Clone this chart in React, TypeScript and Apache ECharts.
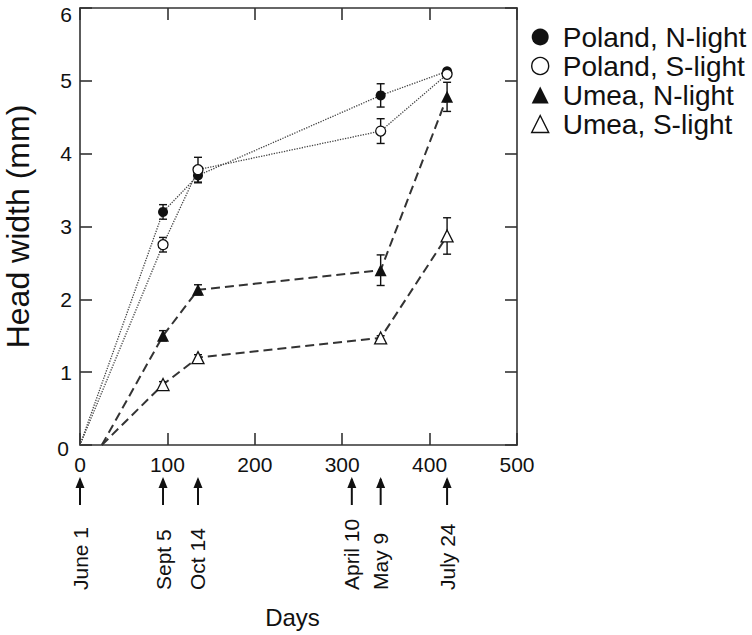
import React, { useEffect, useRef } from "react";
import * as echarts from "echarts";

// ---- data ----
const sampleDays = [95, 135, 344, 420];
const polandN = [3.2, 3.7, 4.8, 5.13];
const polandNErr = [0.1, 0.1, 0.16, 0.03];
const polandS = [2.75, 3.78, 4.31, 5.09];
const polandSErr = [0.1, 0.17, 0.17, 0.03];
const umeaN = [1.5, 2.13, 2.4, 4.78];
const umeaNErr = [0.07, 0.07, 0.21, 0.2];
const umeaS = [0.83, 1.2, 1.47, 2.87];
const umeaSErr = [0.04, 0.04, 0.03, 0.25];
const polandStartDay = 0;
const umeaStartDay = 25;

const eventLabels = ["June 1", "Sept 5", "Oct 14", "April 10", "May 9", "July 24"];
const eventDays = [0, 95, 135, 311, 344, 420];

const xTicks = [0, 100, 200, 300, 400, 500];
const yTicks = [0, 1, 2, 3, 4, 5, 6];

const seriesNames = ["Poland, N-light", "Poland, S-light", "Umea, N-light", "Umea, S-light"];

const FONT = "'Liberation Sans', Arial, Helvetica, sans-serif";
const INK = "#111";

function lineData(startDay: number, vals: number[]) {
  return [
    { value: [startDay, 0], symbol: "none" },
    ...sampleDays.map((d, i) => [d, vals[i]]),
  ];
}

function errData(vals: number[], errs: number[]) {
  return sampleDays.map((d, i) => [d, vals[i] - errs[i], vals[i] + errs[i]]);
}

export default function App() {
  const ref = useRef<HTMLDivElement>(null);
  useEffect(() => {
    if (!ref.current) return;
    const chart = echarts.init(ref.current, undefined, { renderer: "svg" });

    const allErr = [
      ...errData(polandN, polandNErr),
      ...errData(polandS, polandSErr),
      ...errData(umeaN, umeaNErr),
      ...errData(umeaS, umeaSErr),
    ];

    const axisLine = { show: true, onZero: false, lineStyle: { color: "#333", width: 1.6 } };
    const tickInside = { show: true, inside: true, length: 12, lineStyle: { color: "#333", width: 1.6 } };
    const labelText = { fontSize: 21, color: INK, fontFamily: FONT };

    const option: any = {
      animation: false,
      backgroundColor: "#fff",
      textStyle: { fontFamily: FONT },
      grid: { left: 80, right: 235, top: 8, bottom: 190, containLabel: false, outerBoundsMode: "none" },
      legend: {
        orient: "vertical",
        left: 526,
        top: 18,
        itemWidth: 17,
        itemHeight: 17,
        itemGap: 1,
        textStyle: { fontSize: 28, color: INK, fontFamily: FONT, lineHeight: 28, padding: [0, 0, 0, 9] },
        data: [
          { name: seriesNames[0], icon: "circle", itemStyle: { color: INK, borderWidth: 0 } },
          { name: seriesNames[1], icon: "circle", itemStyle: { color: "#fff", borderColor: INK, borderWidth: 1.4 } },
          { name: seriesNames[2], icon: "triangle", itemStyle: { color: INK, borderWidth: 0 } },
          { name: seriesNames[3], icon: "triangle", itemStyle: { color: "#fff", borderColor: INK, borderWidth: 1.4 } },
        ],
      },
      xAxis: [
        {
          type: "value",
          min: 0,
          max: 500,
          interval: 100,
          position: "bottom",
          axisLine,
          axisTick: tickInside,
          splitLine: { show: false },
          axisLabel: { ...labelText, margin: 9, customValues: xTicks },
          name: "Days",
          nameLocation: "middle",
          nameGap: 160,
          nameTextStyle: { fontSize: 24, color: INK, fontFamily: FONT, padding: [0, 12, 0, 0] },
        },
        {
          type: "value",
          min: 0,
          max: 500,
          interval: 100,
          position: "top",
          axisLine,
          axisTick: tickInside,
          axisLabel: { show: false },
          splitLine: { show: false },
        },
      ],
      yAxis: [
        {
          type: "value",
          min: 0,
          max: 6,
          interval: 1,
          position: "left",
          axisLine,
          axisTick: tickInside,
          splitLine: { show: false },
          axisLabel: {
            ...labelText,
            margin: 8,
            customValues: yTicks,
            formatter: (v: number) => (v === 6 ? "{t|6}" : v === 0 ? "{b|0}" : String(v)),
            rich: {
              t: { ...labelText, padding: [13, 0, 0, 0] },
              b: { ...labelText, padding: [6, 3, 0, 0] },
            },
          },
          name: "Head width (mm)",
          nameLocation: "middle",
          nameGap: 46,
          nameTextStyle: { fontSize: 32, color: INK, fontFamily: FONT },
        },
        {
          type: "value",
          min: 0,
          max: 6,
          interval: 1,
          position: "right",
          axisLine,
          axisTick: tickInside,
          axisLabel: { show: false },
          splitLine: { show: false },
        },
      ],
      series: [
        {
          name: "errorbars",
          type: "custom",
          z: 2,
          data: allErr,
          renderItem: (params: any, api: any) => {
            const x = api.value(0);
            const lo = api.coord([x, api.value(1)]);
            const hi = api.coord([x, api.value(2)]);
            const hw = 4;
            const st = { stroke: INK, lineWidth: 1.4 };
            return {
              type: "group",
              children: [
                { type: "line", shape: { x1: lo[0], y1: lo[1], x2: hi[0], y2: hi[1] }, style: st },
                { type: "line", shape: { x1: lo[0] - hw, y1: lo[1], x2: lo[0] + hw, y2: lo[1] }, style: st },
                { type: "line", shape: { x1: hi[0] - hw, y1: hi[1], x2: hi[0] + hw, y2: hi[1] }, style: st },
              ],
            };
          },
        },
        {
          name: seriesNames[0],
          type: "line",
          data: lineData(polandStartDay, polandN),
          symbol: "circle",
          symbolSize: 10,
          itemStyle: { color: INK },
          lineStyle: { type: "dotted", width: 1.3, color: "#444" },
          z: 4,
        },
        {
          name: seriesNames[1],
          type: "line",
          data: lineData(polandStartDay, polandS),
          symbol: "circle",
          symbolSize: 10,
          itemStyle: { color: "#fff", borderColor: INK, borderWidth: 1.3 },
          lineStyle: { type: "dotted", width: 1.3, color: "#444" },
          z: 4,
        },
        {
          name: seriesNames[2],
          type: "line",
          data: lineData(umeaStartDay, umeaN),
          symbol: "triangle",
          symbolSize: 12,
          itemStyle: { color: INK },
          lineStyle: { type: [9, 5], width: 2, color: "#333" },
          z: 4,
        },
        {
          name: seriesNames[3],
          type: "line",
          data: lineData(umeaStartDay, umeaS),
          symbol: "triangle",
          symbolSize: 12,
          itemStyle: { color: "#fff", borderColor: INK, borderWidth: 1.3 },
          lineStyle: { type: [9, 5], width: 2, color: "#333" },
          z: 4,
        },
        {
          name: "events",
          type: "custom",
          clip: false,
          silent: true,
          data: eventDays.map((d, i) => [d, i]),
          renderItem: (params: any, api: any) => {
            const d = api.value(0);
            const idx = api.value(1);
            const p = api.coord([d, 0]);
            const x = p[0];
            const y0 = p[1];
            const tipY = y0 + 32;
            const baseY = y0 + 60;
            return {
              type: "group",
              children: [
                { type: "line", shape: { x1: x, y1: tipY + 2, x2: x, y2: baseY }, style: { stroke: INK, lineWidth: 2 } },
                {
                  type: "polygon",
                  shape: { points: [[x, tipY], [x - 4.5, tipY + 11], [x + 4.5, tipY + 11]] },
                  style: { fill: INK },
                },
                {
                  type: "text",
                  x: x,
                  y: y0 + 145,
                  rotation: Math.PI / 2,
                  style: {
                    text: eventLabels[idx],
                    fontSize: 21,
                    fontFamily: FONT,
                    fill: INK,
                    align: "left",
                    verticalAlign: "middle",
                  },
                },
              ],
            };
          },
        },
      ],
    };
    chart.setOption(option);
    return () => chart.dispose();
  }, []);
  return (
    <div
      ref={ref}
      style={{ position: "absolute", left: 0, top: 0, width: 752, height: 635, background: "#fff" }}
    />
  );
}
